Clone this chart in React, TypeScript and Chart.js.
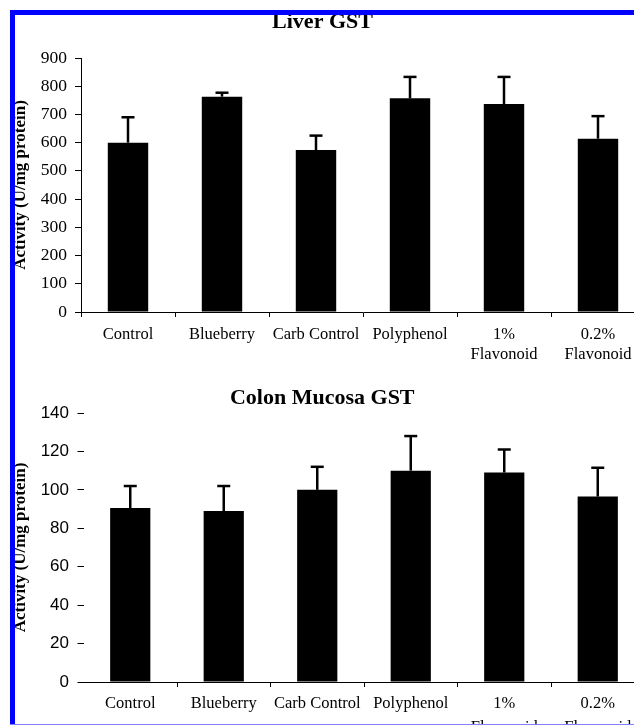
import React, { useEffect, useRef } from "react";
import { Chart, registerables } from "chart.js";

Chart.register(...registerables);

// ---- Data ----
const categories: (string | string[])[] = [
  "Control",
  "Blueberry",
  "Carb Control",
  "Polyphenol",
  ["1%", "Flavonoid"],
  ["0.2%", "Flavonoid"],
];

const liverValues = [600, 763, 574, 757, 737, 614];
const liverErrors = [90, 14, 51, 76, 96, 80];

const colonValues = [90.5, 89, 100, 110, 109, 96.5];
const colonErrors = [11.5, 13, 12, 18, 12, 15];

const liverAxis = { min: 0, max: 900, step: 100 };
const colonAxis = { min: 0, max: 140, step: 20 };

const yTitle = "Activity (U/mg protein)";
const liverTitle = "Liver GST";
const colonTitle = "Colon Mucosa GST";

const SERIF = "'Liberation Serif', 'Times New Roman', serif";
const SANS = "'Liberation Sans', Arial, sans-serif";

// ---- Error bar plugin ----
const errorBarPlugin = {
  id: "errorBars",
  afterDatasetsDraw(chart: any, _args: any, opts: any) {
    const errs: number[] = opts && opts.errors;
    if (!errs) return;
    const meta = chart.getDatasetMeta(0);
    const ys = chart.scales.y;
    const data = chart.data.datasets[0].data as number[];
    const ctx = chart.ctx;
    ctx.save();
    ctx.strokeStyle = "#000";
    ctx.lineWidth = opts.lineWidth || 2.5;
    meta.data.forEach((bar: any, i: number) => {
      const top = ys.getPixelForValue(data[i] + errs[i]);
      ctx.beginPath();
      ctx.moveTo(bar.x, bar.y);
      ctx.lineTo(bar.x, top);
      ctx.stroke();
      ctx.beginPath();
      ctx.moveTo(bar.x - (opts.capHalf || 6.5), top);
      ctx.lineTo(bar.x + (opts.capHalf || 6.5), top);
      ctx.stroke();
    });
    ctx.restore();
  },
};

type Spec = {
  title: string;
  values: number[];
  errors: number[];
  axis: { min: number; max: number; step: number };
  width: number;
  height: number;
  top: number;
  padRight: number;
  titlePad: { top: number; bottom: number };
  yWidth: number;
  xHeight: number;
  yTickFont: any;
  yTickPad: number;
  yTickLen: number;
  yBorder: boolean;
  xTickPad: number;
  xLineHeight: number;
  xTickLen: number;
  hideFirstXTick: boolean;
};

function BarChart({ spec }: { spec: Spec }) {
  const ref = useRef<HTMLCanvasElement>(null);
  useEffect(() => {
    const chart = new Chart(ref.current as HTMLCanvasElement, {
      type: "bar",
      data: {
        labels: categories as any,
        datasets: [
          {
            data: spec.values,
            backgroundColor: "#000",
            borderColor: "#333",
            borderWidth: 0,
            barPercentage: 0.43,
            categoryPercentage: 1,
          },
        ],
      },
      plugins: [errorBarPlugin as any],
      options: {
        responsive: false,
        animation: false,
        devicePixelRatio: 1,
        layout: { padding: { left: 0, right: spec.padRight, top: 0, bottom: 0 } },
        plugins: {
          legend: { display: false },
          tooltip: { enabled: false },
          title: {
            display: true,
            text: spec.title,
            color: "#000",
            font: { family: SERIF, size: 22, weight: "bold" },
            padding: spec.titlePad,
          },
          errorBars: { errors: spec.errors, lineWidth: 2.5, capHalf: 6.5 },
        } as any,
        scales: {
          x: {
            offset: true,
            grid: {
              display: true,
              offset: true,
              drawOnChartArea: false,
              drawTicks: true,
              tickLength: spec.xTickLen,
              color: "#000",
              tickColor: (c: any) =>
                spec.hideFirstXTick && c.index === 0 ? "rgba(0,0,0,0)" : "#000",
            },
            border: { display: true, color: "#000", width: 1 },
            ticks: {
              color: "#000",
              font: { family: SERIF, size: 16.5, lineHeight: spec.xLineHeight },
              padding: spec.xTickPad,
              maxRotation: 0,
              minRotation: 0,
              autoSkip: false,
            },
            afterFit: (s: any) => {
              s.height = spec.xHeight;
            },
          },
          y: {
            min: spec.axis.min,
            max: spec.axis.max,
            grid: {
              display: true,
              drawOnChartArea: false,
              drawTicks: true,
              tickLength: spec.yTickLen,
              color: "#000",
            },
            border: { display: spec.yBorder, color: "#000", width: 1 },
            ticks: {
              stepSize: spec.axis.step,
              color: "#000",
              font: spec.yTickFont,
              padding: spec.yTickPad,
            },
            title: {
              display: true,
              text: yTitle,
              color: "#000",
              font: { family: SERIF, size: 17, weight: "bold" },
              padding: { top: 10.8, bottom: 0 },
            },
            afterFit: (s: any) => {
              s.width = spec.yWidth;
            },
          },
        },
      } as any,
    });
    return () => chart.destroy();
  }, []);
  return (
    <canvas
      ref={ref}
      width={spec.width}
      height={spec.height}
      style={{
        position: "absolute",
        left: 0,
        top: spec.top,
        width: spec.width,
        height: spec.height,
      }}
    />
  );
}

const liverSpec: Spec = {
  title: liverTitle,
  values: liverValues,
  errors: liverErrors,
  axis: liverAxis,
  width: 660,
  height: 370,
  top: 0,
  padRight: 15,
  titlePad: { top: 8.8, bottom: 22.8 },
  yWidth: 81,
  xHeight: 58,
  yTickFont: { family: SERIF, size: 17.5 },
  yTickPad: 8,
  yTickLen: 6,
  yBorder: true,
  xTickPad: 8.1,
  xLineHeight: 1.2,
  xTickLen: 5,
  hideFirstXTick: false,
};

const colonSpec: Spec = {
  title: colonTitle,
  values: colonValues,
  errors: colonErrors,
  axis: colonAxis,
  width: 660,
  height: 355,
  top: 370,
  padRight: 15.5,
  titlePad: { top: 14.8, bottom: 1.8 },
  yWidth: 83.5,
  xHeight: 43,
  yTickFont: { family: SANS, size: 17 },
  yTickPad: 8.5,
  yTickLen: 6,
  yBorder: false,
  xTickPad: 5.3,
  xLineHeight: 1.42,
  xTickLen: 5,
  hideFirstXTick: true,
};

export default function App() {
  return (
    <div
      style={{
        position: "fixed",
        left: 0,
        top: 0,
        width: 634,
        height: 725,
        overflow: "hidden",
        background: "#fff",
      }}
    >
      <BarChart spec={liverSpec} />
      <BarChart spec={colonSpec} />
      <div style={{ position: "absolute", left: 10, top: 10, width: 624, height: 5, background: "#0000ff" }} />
      <div style={{ position: "absolute", left: 10, top: 10, width: 5, height: 715, background: "#0000ff" }} />
      <div style={{ position: "absolute", left: 10, top: 724, width: 624, height: 1, background: "#8080ff" }} />
    </div>
  );
}
